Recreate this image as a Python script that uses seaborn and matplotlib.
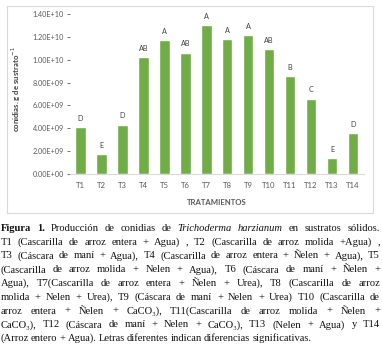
import matplotlib
matplotlib.use("Agg")
import matplotlib.pyplot as plt
import pandas as pd
import seaborn as sns
from matplotlib.patches import Rectangle
from matplotlib.ticker import FuncFormatter

# data
treatments = ["T1", "T2", "T3", "T4", "T5", "T6", "T7",
              "T8", "T9", "T10", "T11", "T12", "T13", "T14"]
conidia = [4.1e9, 1.72e9, 4.3e9, 10.2e9, 11.7e9, 10.6e9, 13.0e9,
           11.8e9, 12.15e9, 10.9e9, 8.56e9, 6.6e9, 1.37e9, 3.55e9]
letters = ["D", "E", "D", "AB", "A", "AB", "A",
           "A", "A", "AB", "B", "C", "E", "D"]

# caption lines: word|style, N = normal, B = bold, I = italic
caption = [
    "Figura|B 1.|B Producción de conidias de Trichoderma|I harzianum|I en sustratos sólidos.",
    "T1 (Cascarilla de arroz entera + Agua) , T2 (Cascarilla de arroz molida +Agua) ,",
    "T3 (Cáscara de maní + Agua), T4 (Cascarilla de arroz entera + Ñelen + Agua), T5",
    "(Cascarilla de arroz molida + Nelen + Agua), T6 (Cáscara de maní + Ñelen +",
    "Agua), T7(Cascarilla de arroz entera + Ñelen + Urea), T8 (Cascarilla de arroz",
    "molida + Nelen + Urea), T9 (Cáscara de maní + Nelen + Urea) T10 (Cascarilla de",
    "arroz entera + Ñelen + CaCO₃), T11(Cascarilla de arroz molida + Ñelen +",
    "CaCO₃), T12 (Cáscara de maní + Nelen + CaCO₃), T13 (Nelen + Agua) y T14",
    "(Arroz entero + Agua). Letras diferentes indican diferencias significativas.",
]

W, H = 382, 348
GREEN = "#70AD47"
TXT = "#595959"

sns.set_theme(style="white")
plt.rcParams["font.family"] = ["Lato", "DejaVu Sans"]

fig = plt.figure(figsize=(W / 100, H / 100), dpi=100)
ax = fig.add_axes([70 / W, (H - 174) / H, 293.5 / W, 160 / H])

df = pd.DataFrame({"trat": treatments, "val": conidia})
sns.barplot(data=df, x="trat", y="val", color=GREEN, saturation=1,
            width=0.5, ax=ax)

ax.set_ylim(0, 1.4e10)
ax.set_yticks([i * 2e9 for i in range(8)])
ax.yaxis.set_major_formatter(FuncFormatter(lambda v, p: f"{v:.2E}"))
ax.tick_params(axis="y", labelsize=5.2, colors=TXT, length=2.5, width=0.6,
               pad=2, left=True)
ax.tick_params(axis="x", labelsize=5.6, colors=TXT, length=0, pad=6)
for s in ["left", "top", "right"]:
    ax.spines[s].set_visible(False)
ax.spines["bottom"].set_color("#D9D9D9")
ax.spines["bottom"].set_linewidth(0.8)
ax.set_xlabel("TRATAMIENTOS", fontsize=5.6, fontweight="bold", color=TXT,
              labelpad=7)
ax.set_ylabel("")

for i, (v, l) in enumerate(zip(conidia, letters)):
    ax.annotate(l, (i, v), xytext=(0, 4), textcoords="offset points",
                ha="center", va="bottom", fontsize=5.2, color="#404040")

fig.text(16 / W, (H - 89) / H, r"conidias. g de sustrato$^{-1}$",
         rotation=90, ha="center", va="center", fontsize=5.6,
         fontweight="bold", color="#404040")

# chart border
fig.patches.append(Rectangle((7 / W, (H - 213) / H), 366 / W, 207 / H,
                             transform=fig.transFigure, fill=False,
                             edgecolor="#D9D9D9", linewidth=0.8))

# justified caption
renderer = fig.canvas.get_renderer()
serif = ["Liberation Serif", "DejaVu Serif"]
x_left, x_right = 0.5, 380.0
fs = 7.6


def make_words(line):
    out = []
    for tok in line.split(" "):
        if "|" in tok:
            w, st = tok.split("|")
        else:
            w, st = tok, "N"
        out.append((w, st))
    return out


def word_text(w, st, size):
    return fig.text(0, 0, w, fontsize=size, family=serif, color="#111111",
                    fontweight="bold" if st == "B" else "normal",
                    fontstyle="italic" if st == "I" else "normal",
                    va="center", ha="left")


lines = [make_words(l) for l in caption]
space = fs * 100 / 72 * 0.2

y0, dy = 228.5, 13.75
for k, words in enumerate(lines):
    ts = [word_text(w, st, fs) for w, st in words]
    ws = [t.get_window_extent(renderer).width for t in ts]
    if k < len(lines) - 1:
        gap = max((x_right - x_left - sum(ws)) / (len(ws) - 1), 1.0)
    else:
        gap = space
    x = x_left
    y = (H - (y0 + k * dy)) / H
    for t, w in zip(ts, ws):
        t.set_position((x / W, y))
        x += w + gap

fig.savefig("out.png", dpi=100)
